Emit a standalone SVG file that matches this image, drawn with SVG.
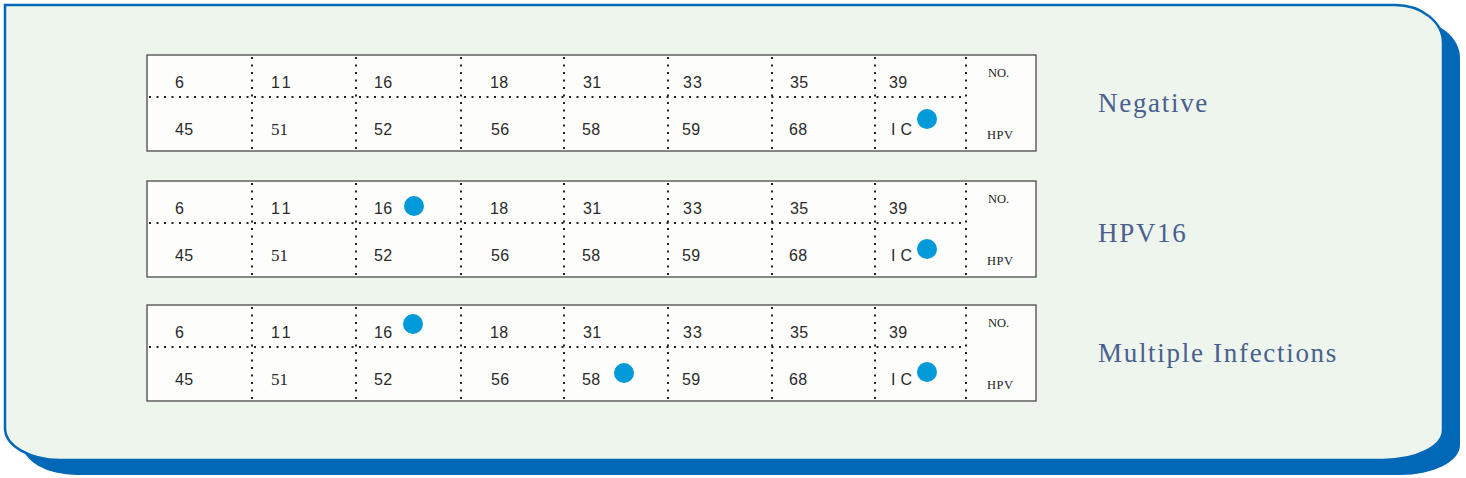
<svg xmlns="http://www.w3.org/2000/svg" width="1466" height="478" viewBox="0 0 1466 478">
<defs>
<style>
.frame{fill:#eef5ec;stroke:#0068b7;stroke-width:2.5}
.shadow{fill:#0068b7}
.box{fill:#fdfdfc;stroke:#4a4a4a;stroke-width:1.3}
.dot{stroke:#222;stroke-width:2;stroke-dasharray:2 5.5;fill:none}
.n{font-family:"Liberation Sans",Arial,sans-serif;font-size:16px;fill:#2a2a2a;letter-spacing:0.3px}
.ns{font-family:"Liberation Serif","Times New Roman",serif;font-size:17px;fill:#2a2a2a}
.hd{font-family:"Liberation Serif","Times New Roman",serif;font-size:12.5px;fill:#222}
.spot{fill:#009ad9}
.lbl{font-family:"Liberation Serif","Times New Roman",serif;font-size:27px;fill:#4a5f8f;letter-spacing:1.7px}
</style>
<g id="grid">
<rect class="box" x="147" y="0" width="889" height="96"/>
<line class="dot" x1="149" y1="42" x2="966" y2="42"/>
<line class="dot" x1="252" y1="2" x2="252" y2="96"/>
<line class="dot" x1="356" y1="2" x2="356" y2="96"/>
<line class="dot" x1="461" y1="2" x2="461" y2="96"/>
<line class="dot" x1="564" y1="2" x2="564" y2="96"/>
<line class="dot" x1="668" y1="2" x2="668" y2="96"/>
<line class="dot" x1="772" y1="2" x2="772" y2="96"/>
<line class="dot" x1="875" y1="2" x2="875" y2="96"/>
<line class="dot" x1="966" y1="2" x2="966" y2="96"/>
<text class="n" x="175" y="33">6</text>
<text class="n" x="271" y="33" style="letter-spacing:3px">11</text>
<text class="n" x="374" y="33">16</text>
<text class="n" x="490" y="33">18</text>
<text class="n" x="583" y="33">31</text>
<text class="n" x="683" y="33" style="letter-spacing:1px">33</text>
<text class="n" x="790" y="33">35</text>
<text class="n" x="889" y="33">39</text>
<text class="n" x="175" y="80">45</text>
<text class="ns" x="271" y="80">51</text>
<text class="n" x="374" y="80">52</text>
<text class="n" x="491" y="80">56</text>
<text class="n" x="582" y="80">58</text>
<text class="n" x="682" y="80">59</text>
<text class="n" x="789" y="80">68</text>
<text class="n" x="891" y="80">I C</text>
<text class="hd" x="988" y="22">NO.</text>
<text class="hd" x="987" y="84" style="letter-spacing:0.5px">HPV</text>
</g>
</defs>
<g id="background">
<path class="shadow" transform="translate(17,15)" d="M5,5 H1395 A48,38 0 0 1 1443,43 V430 A60,30 0 0 1 1383,460 H60 A55,32 0 0 1 5,428 Z"/>
<path class="frame" d="M5,5 H1395 A48,38 0 0 1 1443,43 V430 A60,30 0 0 1 1383,460 H60 A55,32 0 0 1 5,428 Z"/>
</g>
<g id="strip-negative">
<use href="#grid" transform="translate(0,55)"/>
<circle class="spot" cx="927" cy="119" r="10"/>
</g>
<g id="strip-hpv16">
<use href="#grid" transform="translate(0,181)"/>
<circle class="spot" cx="414" cy="206" r="10"/>
<circle class="spot" cx="927" cy="249" r="10"/>
</g>
<g id="strip-multiple">
<use href="#grid" transform="translate(0,305)"/>
<circle class="spot" cx="413" cy="324" r="10"/>
<circle class="spot" cx="624" cy="373" r="10"/>
<circle class="spot" cx="927" cy="372" r="10"/>
</g>
<g id="labels">
<text class="lbl" x="1098" y="112">Negative</text>
<text class="lbl" x="1098" y="242">HPV16</text>
<text class="lbl" x="1098" y="362">Multiple Infections</text>
</g>
<g id="connectors"/>
</svg>
